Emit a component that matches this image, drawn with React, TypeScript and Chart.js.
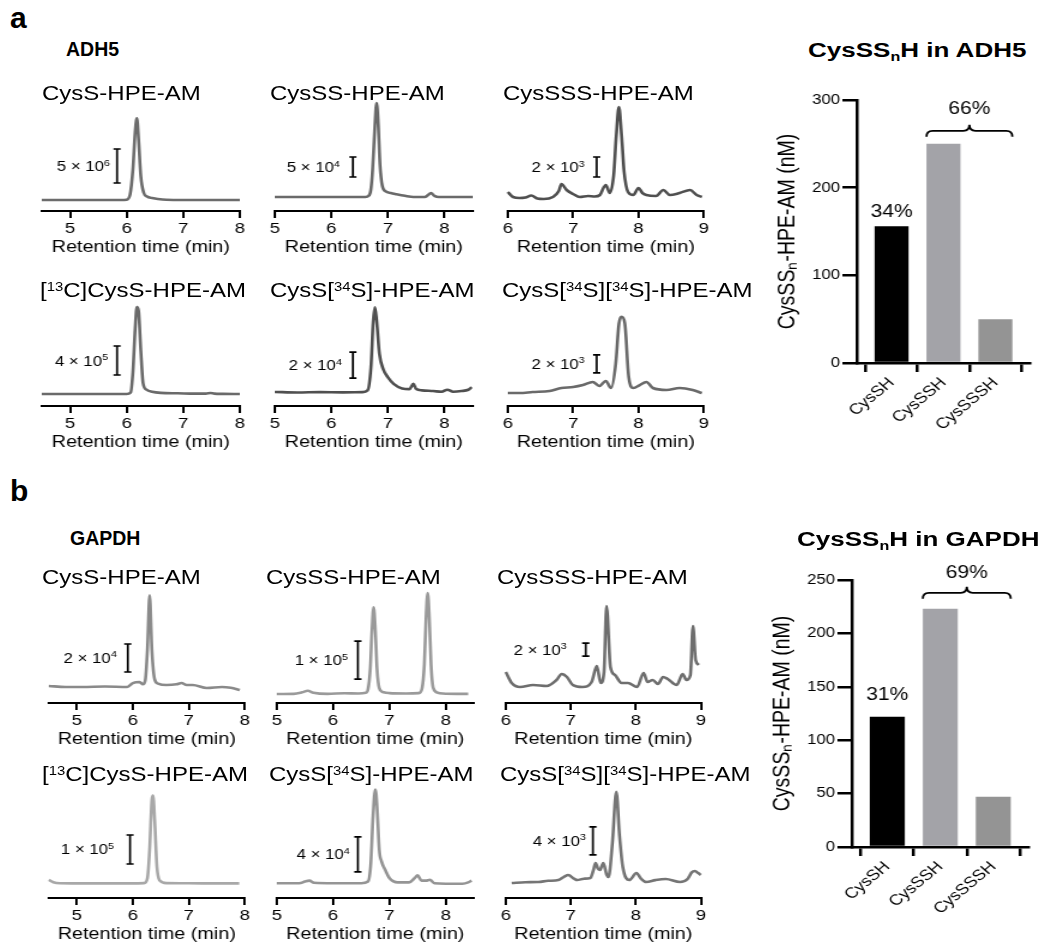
import React, { useEffect, useRef } from "react";
import { Chart, registerables } from "chart.js";

Chart.register(...registerables);

const FONT = "'Liberation Sans', Arial, Helvetica, sans-serif";
const STRETCH = 1.2;

// ---------- x tick labels (retention time, min) ----------
const TICKS_A = [5, 6, 7, 8];
const TICKS_B = [5, 6, 7, 8];
const TICKS_C = [6, 7, 8, 9];

// ---------- chromatogram traces: [retention time (min), intensity (counts)] ----------
const ADH5_CYSS: [number, number][] = [
  [4.5, 0], [5.0, 0], [5.5, 0], [5.9, 0], [6.0, 5e4], [6.06, 8e5], [6.11, 4.5e6], [6.15, 1.0e7],
  [6.18, 1.2e7], [6.21, 9e6], [6.25, 3.5e6], [6.3, 1.1e6], [6.36, 5e5], [6.45, 3e5], [6.55, 1.5e5],
  [6.7, 3e4], [7.0, 0], [7.5, 0], [8.0, 0],
];
const ADH5_CYSSS: [number, number][] = [
  [5, 0], [6.0, 0], [6.6, 0], [6.66, 3e3], [6.7, 2e4], [6.73, 7e4], [6.77, 1.8e5], [6.8, 2.35e5],
  [6.83, 1.8e5], [6.86, 8e4], [6.9, 2.8e4], [6.96, 1.4e4], [7.05, 1e4], [7.15, 7e3], [7.3, 3e3],
  [7.45, 0], [7.65, 0], [7.71, 5e3], [7.76, 1e4], [7.82, 3e3], [7.9, 0], [8.5, 0],
];
const ADH5_CYSSSS: [number, number][] = [
  [6.0, 800], [6.08, 300], [6.18, 200], [6.27, 250], [6.36, 450], [6.45, 150], [6.55, 100],
  [6.69, 300], [6.78, 900], [6.82, 1600], [6.9, 1000], [7.0, 600], [7.1, 300], [7.23, 400],
  [7.33, 350], [7.41, 500], [7.47, 1300], [7.5, 1500], [7.56, 700], [7.62, 2500], [7.66, 6500],
  [7.7, 9300], [7.74, 6500], [7.78, 2800], [7.84, 800], [7.92, 500], [8.0, 1200], [8.06, 700],
  [8.12, 500], [8.27, 400], [8.38, 1000], [8.48, 500], [8.63, 700], [8.79, 1000], [8.89, 500],
  [8.97, 300],
];
const ADH5_13C_CYSS: [number, number][] = [
  [4.5, 0], [5.5, 0], [6.0, 0], [6.07, 2e4], [6.11, 3e5], [6.15, 9e5], [6.18, 1.2e6], [6.21, 1.15e6],
  [6.25, 6e5], [6.29, 1.5e5], [6.35, 6e4], [6.45, 3e4], [6.6, 1.5e4], [6.9, 1e4], [7.2, 5e3],
  [7.4, 5e3], [7.48, 1.3e4], [7.55, 5e3], [7.7, 2e3], [8.0, 0],
];
const ADH5_CYSS34S: [number, number][] = [
  [5, 800], [5.4, 400], [5.8, 700], [6.2, 500], [6.55, 700], [6.64, 2e3], [6.7, 2e4], [6.74, 5.5e4],
  [6.77, 6.6e4], [6.8, 5.6e4], [6.85, 3e4], [6.92, 1.8e4], [7.0, 1.2e4], [7.1, 7e3], [7.25, 3.5e3],
  [7.38, 3e3], [7.45, 7e3], [7.5, 3e3], [7.6, 2e3], [7.8, 1.5e3], [7.95, 1e3], [8.05, 2.5e3],
  [8.15, 1e3], [8.3, 1.5e3], [8.42, 2.5e3], [8.48, 4.5e3],
];
const ADH5_CYSS34S34S: [number, number][] = [
  [6.0, 330], [6.18, 330], [6.38, 440], [6.64, 560], [6.82, 890], [7.0, 1000], [7.15, 1220],
  [7.3, 1560], [7.4, 1110], [7.5, 1670], [7.58, 890], [7.65, 3500], [7.7, 8000], [7.74, 8800],
  [7.79, 8100], [7.85, 2100], [7.92, 890], [8.02, 1220], [8.12, 1560], [8.22, 890], [8.43, 670],
  [8.63, 890], [8.83, 670], [8.97, 330],
];
const GAPDH_CYSS: [number, number][] = [
  [4.5, 4300], [4.8, 3600], [5.1, 3600], [5.5, 3900], [5.9, 3600], [6.0, 6400], [6.12, 7100],
  [6.18, 5500], [6.22, 8000], [6.26, 30000], [6.3, 69000], [6.34, 30000], [6.39, 9000],
  [6.45, 6000], [6.6, 5000], [6.78, 5500], [6.87, 6400], [6.96, 5000], [7.07, 5000], [7.32, 2900],
  [7.59, 3600], [7.75, 3000], [7.91, 1400],
];
const GAPDH_CYSSS: [number, number][] = [
  [5, 2600], [5.3, 3000], [5.45, 7000], [5.55, 11000], [5.65, 6000], [5.9, 3000], [6.2, 4500],
  [6.45, 4000], [6.58, 6000], [6.62, 15000], [6.66, 70000], [6.69, 170000], [6.72, 231000],
  [6.75, 170000], [6.78, 70000], [6.82, 18000], [6.9, 7000], [7.0, 5000], [7.3, 4000], [7.52, 5000],
  [7.58, 18000], [7.62, 80000], [7.65, 200000], [7.68, 268000], [7.71, 200000], [7.74, 80000],
  [7.78, 18000], [7.86, 6000], [7.95, 4000], [8.2, 3000], [8.4, 3000],
];
const GAPDH_CYSSSS: [number, number][] = [
  [6.0, 2770], [6.09, 1080], [6.22, 460], [6.42, 770], [6.63, 620], [6.78, 1540], [6.86, 2460],
  [6.94, 2000], [7.03, 770], [7.18, 460], [7.32, 1230], [7.4, 3690], [7.46, 1080], [7.51, 2620],
  [7.55, 12900], [7.61, 3540], [7.68, 2310], [7.78, 1080], [7.88, 1080], [8.02, 460], [8.12, 2620],
  [8.18, 1230], [8.26, 1540], [8.34, 920], [8.42, 2000], [8.49, 1690], [8.63, 770], [8.72, 2460],
  [8.78, 1540], [8.84, 2310], [8.88, 9850], [8.92, 4620], [8.97, 3850],
];
const GAPDH_13C_CYSS: [number, number][] = [
  [4.5, 14000], [4.58, 6000], [4.7, 2500], [5.0, 2000], [5.5, 2000], [6.0, 2000], [6.2, 3000],
  [6.26, 20000], [6.3, 120000], [6.34, 290000], [6.36, 305000], [6.39, 220000], [6.43, 60000],
  [6.48, 12000], [6.6, 3000], [7.0, 2500], [7.5, 2000], [7.9, 2000],
];
const GAPDH_CYSS34S: [number, number][] = [
  [5, 2000], [5.4, 2000], [5.5, 4000], [5.58, 5000], [5.66, 2500], [6.0, 2000], [6.5, 2000],
  [6.62, 4000], [6.67, 25000], [6.71, 80000], [6.75, 109000], [6.78, 90000], [6.82, 40000],
  [6.86, 27000], [6.92, 18000], [7.0, 8000], [7.15, 3000], [7.35, 3000], [7.45, 8000], [7.5, 11000],
  [7.57, 5000], [7.65, 5000], [7.72, 6000], [7.8, 2000], [8.0, 1500], [8.3, 1500], [8.4, 3000],
  [8.46, 5000],
];
const GAPDH_CYSS34S34S: [number, number][] = [
  [6.09, 290], [6.3, 400], [6.5, 430], [6.65, 600], [6.81, 710], [6.9, 1200], [6.96, 1430],
  [7.05, 900], [7.1, 710], [7.2, 900], [7.3, 1000], [7.35, 2200], [7.38, 3140], [7.42, 2300],
  [7.45, 2140], [7.48, 2800], [7.5, 3140], [7.55, 1500], [7.58, 1140], [7.64, 6000], [7.7, 13300],
  [7.75, 7000], [7.8, 2570], [7.9, 710], [8.01, 1710], [8.08, 900], [8.16, 430], [8.3, 700],
  [8.46, 860], [8.68, 430], [8.8, 900], [8.86, 1800], [8.91, 2000], [8.96, 1700], [9.0, 1430],
];

// ---------- bar chart data ----------
const BAR_CATEGORIES = ["CysSH", "CysSSH", "CysSSSH"];
const ADH5_CONC_NM = [156, 250, 50];
const GAPDH_CONC_NM = [122, 223, 47];
const ADH5_Y_TICKS = [0, 100, 200, 300];
const GAPDH_Y_TICKS = [0, 50, 100, 150, 200, 250];
const BAR_COLORS = ["#000000", "#a3a3a8", "#949494"];

const sup = (s: string) => (
  <span style={{ fontSize: "0.62em", position: "relative", top: "-0.5em" }}>{s}</span>
);

type ScaleBar = { t: number; base: number; value: number; mant: string; exp: string; gap: number };
type ChromCfg = {
  title: React.ReactNode;
  titleX: number;
  capTop: number;
  data: [number, number][];
  range: [number, number];
  ticks: number[];
  xs0: number;
  xs1: number;
  yAxis: number;
  zero: number;
  barPx: number;
  bar: ScaleBar;
  color: string;
};

const CHROMS: ChromCfg[] = [
  { title: <>CysS-HPE-AM</>, titleX: 42, capTop: 86, data: ADH5_CYSS, range: [4.5, 8], ticks: TICKS_A,
    xs0: 42, xs1: 240, yAxis: 211, zero: 200, barPx: 34,
    bar: { t: 5.83, base: 2.5e6, value: 5e6, mant: "5", exp: "6", gap: 7 }, color: "#6c6c6c" },
  { title: <>CysSS-HPE-AM</>, titleX: 270, capTop: 86, data: ADH5_CYSSS, range: [5, 8.5], ticks: TICKS_B,
    xs0: 275, xs1: 473, yAxis: 211, zero: 197, barPx: 20,
    bar: { t: 6.38, base: 5e4, value: 5e4, mant: "5", exp: "4", gap: 13 }, color: "#6a6a6a" },
  { title: <>CysSSS-HPE-AM</>, titleX: 503, capTop: 86, data: ADH5_CYSSSS, range: [6, 9], ticks: TICKS_C,
    xs0: 508, xs1: 704, yAxis: 211, zero: 200, barPx: 20,
    bar: { t: 7.36, base: 2300, value: 2e3, mant: "2", exp: "3", gap: 12 }, color: "#505050" },
  { title: <>[{sup("13")}C]CysS-HPE-AM</>, titleX: 40, capTop: 283, data: ADH5_13C_CYSS, range: [4.5, 8], ticks: TICKS_A,
    xs0: 42, xs1: 240, yAxis: 406, zero: 394, barPx: 29,
    bar: { t: 5.83, base: 2.62e5, value: 4e5, mant: "4", exp: "5", gap: 9 }, color: "#6a6a6a" },
  { title: <>CysS[{sup("34")}S]-HPE-AM</>, titleX: 270, capTop: 283, data: ADH5_CYSS34S, range: [5, 8.5], ticks: TICKS_B,
    xs0: 275, xs1: 473, yAxis: 406, zero: 393, barPx: 26,
    bar: { t: 6.38, base: 1.15e4, value: 2e4, mant: "2", exp: "4", gap: 11 }, color: "#505050" },
  { title: <>CysS[{sup("34")}S][{sup("34")}S]-HPE-AM</>, titleX: 502, capTop: 283, data: ADH5_CYSS34S34S, range: [6, 9], ticks: TICKS_C,
    xs0: 508, xs1: 704, yAxis: 406, zero: 396, barPx: 18,
    bar: { t: 7.36, base: 2560, value: 2e3, mant: "2", exp: "3", gap: 12 }, color: "#6a6a6a" },
  { title: <>CysS-HPE-AM</>, titleX: 42, capTop: 570, data: GAPDH_CYSS, range: [4.5, 8], ticks: TICKS_A,
    xs0: 49, xs1: 245, yAxis: 703, zero: 692, barPx: 28,
    bar: { t: 5.91, base: 1.43e4, value: 2e4, mant: "2", exp: "4", gap: 11 }, color: "#8a8a8a" },
  { title: <>CysSS-HPE-AM</>, titleX: 266, capTop: 570, data: GAPDH_CYSSS, range: [5, 8.5], ticks: TICKS_B,
    xs0: 277, xs1: 474, yAxis: 703, zero: 695, barPx: 38,
    bar: { t: 6.44, base: 4.2e4, value: 1e5, mant: "1", exp: "5", gap: 10 }, color: "#9a9a9a" },
  { title: <>CysSSS-HPE-AM</>, titleX: 497, capTop: 570, data: GAPDH_CYSSSS, range: [6, 9], ticks: TICKS_C,
    xs0: 506, xs1: 701, yAxis: 703, zero: 690, barPx: 13,
    bar: { t: 7.23, base: 5200, value: 2e3, mant: "2", exp: "3", gap: 19 }, color: "#6e6e6e" },
  { title: <>[{sup("13")}C]CysS-HPE-AM</>, titleX: 42, capTop: 767, data: GAPDH_13C_CYSS, range: [4.5, 8], ticks: TICKS_A,
    xs0: 49, xs1: 245, yAxis: 898, zero: 884, barPx: 29,
    bar: { t: 5.95, base: 6.9e4, value: 1e5, mant: "1", exp: "5", gap: 16 }, color: "#a8a8a8" },
  { title: <>CysS[{sup("34")}S]-HPE-AM</>, titleX: 269, capTop: 767, data: GAPDH_CYSS34S, range: [5, 8.5], ticks: TICKS_B,
    xs0: 277, xs1: 474, yAxis: 898, zero: 885, barPx: 35,
    bar: { t: 6.44, base: 1.49e4, value: 4e4, mant: "4", exp: "4", gap: 8 }, color: "#959595" },
  { title: <>CysS[{sup("34")}S][{sup("34")}S]-HPE-AM</>, titleX: 500, capTop: 767, data: GAPDH_CYSS34S34S, range: [6, 9], ticks: TICKS_C,
    xs0: 506, xs1: 701, yAxis: 898, zero: 885, barPx: 28,
    bar: { t: 7.34, base: 4290, value: 4e3, mant: "4", exp: "3", gap: 7 }, color: "#757575" },
];

const scaleBarPlugin = {
  id: "scaleBar",
  afterDatasetsDraw(chart: any, _args: any, opts: any) {
    const { ctx } = chart;
    const x = chart.scales.x;
    const y = chart.scales.y;
    const px = x.getPixelForValue(opts.t);
    const yb = y.getPixelForValue(opts.base);
    const yt = y.getPixelForValue(opts.base + opts.value);
    ctx.save();
    ctx.strokeStyle = "#000";
    ctx.lineWidth = 1.7;
    ctx.beginPath();
    ctx.moveTo(px, yb);
    ctx.lineTo(px, yt);
    ctx.moveTo(px - 3, yt);
    ctx.lineTo(px + 3, yt);
    ctx.moveTo(px - 3, yb);
    ctx.lineTo(px + 3, yb);
    ctx.stroke();
    const ym = (yb + yt) / 2;
    const main = `${opts.mant} \u00d7 10`;
    ctx.fillStyle = "#000";
    ctx.textBaseline = "alphabetic";
    ctx.textAlign = "left";
    ctx.font = `14px ${FONT}`;
    const wMain = ctx.measureText(main).width;
    ctx.font = `9px ${FONT}`;
    const wExp = ctx.measureText(opts.exp).width;
    const right = px - opts.gap / STRETCH;
    const baseline = ym + 5;
    ctx.font = `14px ${FONT}`;
    ctx.fillText(main, right - wExp - wMain, baseline);
    ctx.font = `9px ${FONT}`;
    ctx.fillText(opts.exp, right - wExp, baseline - 5.5);
    ctx.restore();
  },
};

function ChromPanel({ c }: { c: ChromCfg }) {
  const ref = useRef<HTMLCanvasElement>(null);
  const padL = 14;
  const inner = (c.xs1 - c.xs0) / STRETCH;
  const W = Math.ceil(inner + 2 * padL);
  const padR = W - padL - inner;
  const padTop = 4;
  const areaH = 125;
  const axisH = 46;
  const H = padTop + areaH + axisH;
  useEffect(() => {
    const ppu = c.barPx / c.bar.value;
    const yMin = -(c.yAxis - c.zero) / ppu;
    const yMax = (c.zero - (c.yAxis - areaH)) / ppu;
    const chart = new Chart(ref.current as HTMLCanvasElement, {
      type: "line",
      data: {
        datasets: [
          {
            data: c.data.map(([t, v]) => ({ x: t, y: v })),
            borderColor: c.color,
            borderWidth: 2.6,
            pointRadius: 0,
            cubicInterpolationMode: "monotone",
            fill: false,
            clip: false as any,
          },
        ],
      },
      options: {
        animation: false,
        responsive: false,
        events: [],
        layout: { padding: { left: padL, right: padR, top: padTop, bottom: 0 } },
        plugins: {
          legend: { display: false },
          tooltip: { enabled: false },
          scaleBar: c.bar,
        } as any,
        scales: {
          x: {
            type: "linear",
            min: c.range[0],
            max: c.range[1],
            afterBuildTicks: (s: any) => {
              s.ticks = c.ticks.map((v) => ({ value: v }));
            },
            afterFit: (s: any) => {
              s.height = axisH;
            },
            grid: { drawOnChartArea: false, drawTicks: true, tickLength: 7, color: "#000", lineWidth: 2 },
            border: { display: true, color: "#000", width: 2 },
            ticks: { color: "#000", font: { family: FONT, size: 15.5 }, padding: 1, maxRotation: 0, autoSkip: false },
            title: {
              display: true,
              text: "Retention time (min)",
              color: "#000",
              font: { family: FONT, size: 16.5 },
              padding: { top: 0, bottom: 0 },
            },
          },
          y: { display: false, min: yMin, max: yMax },
        },
      } as any,
      plugins: [scaleBarPlugin],
    });
    return () => chart.destroy();
  }, [c]);
  return (
    <div
      style={{
        position: "absolute",
        left: c.xs0 - STRETCH * padL,
        top: c.yAxis - areaH - padTop,
        width: W,
        height: H,
        transform: `scaleX(${STRETCH})`,
        transformOrigin: "0 0",
      }}
    >
      <canvas ref={ref} width={W} height={H} style={{ display: "block" }} />
    </div>
  );
}

const braceLabelPlugin = {
  id: "braceLabels",
  afterDatasetsDraw(chart: any, _args: any, opts: any) {
    const { ctx } = chart;
    const meta = chart.getDatasetMeta(0);
    const vals: number[] = chart.data.datasets[0].data.map((d: any) => d.y);
    const total = vals.reduce((a, b) => a + b, 0);
    const pct0 = Math.round((vals[0] / total) * 100);
    const pctRest = 100 - pct0;
    ctx.save();
    ctx.fillStyle = "#000";
    ctx.strokeStyle = "#000";
    ctx.font = `17.5px ${FONT}`;
    ctx.textAlign = "center";
    ctx.textBaseline = "alphabetic";
    const b0 = meta.data[0];
    ctx.fillText(`${pct0}%`, b0.x, b0.y - opts.gap0);
    const b1 = meta.data[1];
    const b2 = meta.data[2];
    const xl = b1.x - b1.width / 2;
    const xr = b2.x + b2.width / 2;
    const yEnd = Math.min(b1.y, b2.y) - opts.braceGap;
    const h = 12;
    const xm = (xl + xr) / 2;
    const r = 5;
    const ymid = yEnd - h / 2;
    ctx.lineWidth = 1.8;
    ctx.beginPath();
    ctx.moveTo(xl, yEnd);
    ctx.quadraticCurveTo(xl, ymid, xl + r, ymid);
    ctx.lineTo(xm - r, ymid);
    ctx.quadraticCurveTo(xm, ymid, xm, yEnd - h);
    ctx.quadraticCurveTo(xm, ymid, xm + r, ymid);
    ctx.lineTo(xr - r, ymid);
    ctx.quadraticCurveTo(xr, ymid, xr, yEnd);
    ctx.stroke();
    ctx.fillText(`${pctRest}%`, xm, yEnd - h - opts.textGap);
    ctx.restore();
  },
};

type BarCfg = {
  values: number[];
  yTicks: number[];
  left: number;
  top: number;
  W: number;
  padTop: number;
  areaH: number;
  padR: number;
  barPct: number;
  gap0: number;
  braceGap: number;
  textGap: number;
};

function BarPanel({ b }: { b: BarCfg }) {
  const ref = useRef<HTMLCanvasElement>(null);
  const axisW = 74;
  const xAxisH = 80;
  const H = b.padTop + b.areaH + xAxisH;
  useEffect(() => {
    const chart = new Chart(ref.current as HTMLCanvasElement, {
      type: "bar",
      data: {
        datasets: [
          {
            data: b.values.map((v, i) => ({ x: i, y: v })),
            backgroundColor: BAR_COLORS,
            borderWidth: 0,
            barPercentage: b.barPct,
            categoryPercentage: 1,
          },
        ],
      },
      options: {
        animation: false,
        responsive: false,
        events: [],
        layout: { padding: { left: 0, right: b.padR, top: b.padTop, bottom: 0 } },
        plugins: {
          legend: { display: false },
          tooltip: { enabled: false },
          braceLabels: { gap0: b.gap0, braceGap: b.braceGap, textGap: b.textGap },
        } as any,
        scales: {
          x: {
            type: "linear",
            min: -0.67,
            max: 2.66,
            offset: false,
            afterBuildTicks: (s: any) => {
              s.ticks = BAR_CATEGORIES.map((_, i) => ({ value: i }));
            },
            afterFit: (s: any) => {
              s.height = xAxisH;
            },
            grid: { drawOnChartArea: false, drawTicks: true, tickLength: 9, color: "#000", lineWidth: 2.5 },
            border: { display: true, color: "#000", width: 2.5 },
            ticks: {
              color: "#000",
              font: { family: FONT, size: 15 },
              minRotation: 45,
              maxRotation: 45,
              padding: 2,
              autoSkip: false,
              callback: (v: any) => BAR_CATEGORIES[Math.round(Number(v))] ?? "",
            },
          },
          y: {
            min: 0,
            max: b.yTicks[b.yTicks.length - 1],
            afterBuildTicks: (s: any) => {
              s.ticks = b.yTicks.map((v) => ({ value: v }));
            },
            afterFit: (s: any) => {
              s.width = axisW;
            },
            grid: { drawOnChartArea: false, drawTicks: true, tickLength: 12, color: "#000", lineWidth: 2.5 },
            border: { display: true, color: "#000", width: 2.5 },
            ticks: { color: "#000", font: { family: FONT, size: 14 }, padding: 2 },
            title: {
              display: true,
              text: "CysSS\u2099-HPE-AM (nM)",
              color: "#000",
              font: { family: FONT, size: 19.5 },
              padding: { top: 5, bottom: 0 },
            },
          },
        },
      } as any,
      plugins: [braceLabelPlugin],
    });
    return () => chart.destroy();
  }, [b]);
  return (
    <div
      style={{
        position: "absolute",
        left: b.left,
        top: b.top,
        width: b.W,
        height: H,
        transform: `scaleX(${STRETCH})`,
        transformOrigin: "0 0",
      }}
    >
      <canvas ref={ref} width={b.W} height={H} style={{ display: "block" }} />
    </div>
  );
}

const BARS: BarCfg[] = [
  { values: ADH5_CONC_NM, yTicks: ADH5_Y_TICKS, left: 768, top: 88, W: 230, padTop: 12, areaH: 263, padR: 12,
    barPct: 0.655, gap0: 9, braceGap: 7, textGap: 11 },
  { values: GAPDH_CONC_NM, yTicks: GAPDH_Y_TICKS, left: 763, top: 550, W: 231, padTop: 30, areaH: 267, padR: 10,
    barPct: 0.66, gap0: 17, braceGap: 10, textGap: 9 },
];

function Text({ x, capTop, size, bold, stretch, children }: any) {
  return (
    <div
      style={{
        position: "absolute",
        left: x,
        top: capTop - 0.1305 * size,
        fontFamily: FONT,
        fontSize: size,
        fontWeight: bold ? 700 : 400,
        lineHeight: 1,
        whiteSpace: "nowrap",
        color: "#000",
        transform: stretch ? `scaleX(${stretch})` : undefined,
        transformOrigin: "0 0",
      }}
    >
      {children}
    </div>
  );
}

export default function App() {
  return (
    <div style={{ position: "absolute", left: 0, top: 0, width: 1050, height: 951, background: "#fff", overflow: "hidden" }}>
      {CHROMS.map((c, i) => (
        <ChromPanel key={"c" + i} c={c} />
      ))}
      {BARS.map((b, i) => (
        <BarPanel key={"b" + i} b={b} />
      ))}
      {CHROMS.map((c, i) => (
        <Text key={"t" + i} x={c.titleX} capTop={c.capTop} size={20} stretch={STRETCH}>
          {c.title}
        </Text>
      ))}
      <Text x={10} capTop={13 - 0.2 * 30} size={30} bold>a</Text>
      <Text x={10} capTop={480} size={30} bold>b</Text>
      <Text x={66} capTop={43} size={19.5} bold>ADH5</Text>
      <Text x={70} capTop={532} size={19.5} bold>GAPDH</Text>
      <Text x={808} capTop={43} size={20} bold stretch={1.3}>
        CysSS<span style={{ fontSize: "0.62em", position: "relative", top: "0.3em" }}>n</span>H in ADH5
      </Text>
      <Text x={797} capTop={532} size={20} bold stretch={1.3}>
        CysSS<span style={{ fontSize: "0.62em", position: "relative", top: "0.3em" }}>n</span>H in GAPDH
      </Text>
    </div>
  );
}
